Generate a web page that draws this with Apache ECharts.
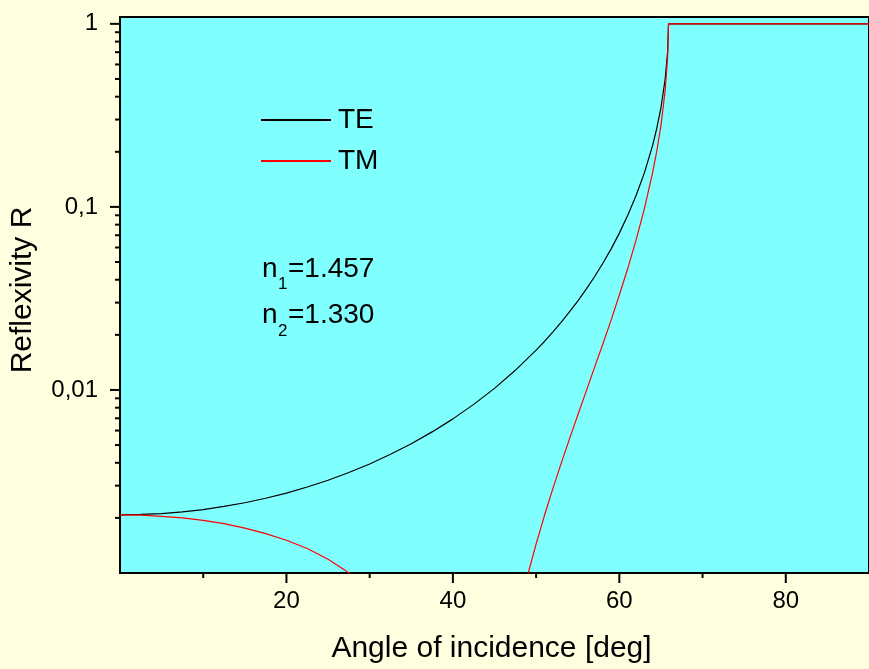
<!DOCTYPE html>
<html>
<head>
<meta charset="utf-8">
<script src="https://cdn.jsdelivr.net/npm/echarts@6/dist/echarts.min.js"></script>
<style>
html,body{margin:0;padding:0;background:#FFFFE0;}
#main{width:869px;height:669px;}
</style>
</head>
<body>
<div id="main"></div>
<script>
// Angle of incidence [deg] and reflexivity values
var teAngles = [0,2.5,5,7.5,10,12.5,15,17.5,20,22.5,25,27.5,30,32.5,35,37.5,40,42.5,45,47.5,50,51,52,53,54,55,56,57,58,59,60,61,62,63,64,64.5,65,65.5,65.8,65.91,70,80,90];
var teValues = [0.00208,0.00209,0.00211,0.00216,0.00222,0.00231,0.00242,0.00256,0.00273,0.00295,0.00321,0.00354,0.00394,0.00445,0.00508,0.00590,0.00695,0.00834,0.0102,0.0128,0.0165,0.0184,0.0207,0.0234,0.0267,0.0306,0.0354,0.0414,0.0491,0.0588,0.0719,0.0897,0.115,0.153,0.217,0.269,0.348,0.496,0.701,1,1,1,1];

var tmAngles = [0,2.5,5,7.5,10,12.5,15,17.5,20,22.5,25,27,28,30,45,48,49,50,51,52,53,54,55,56,57,58,59,60,61,62,63,64,64.5,65,65.5,65.8,65.91,70,80,90];
var tmValues = [0.00208,0.00207,0.00204,0.00200,0.00194,0.00186,0.00176,0.00164,0.00151,0.00136,0.00119,0.00104,0.00096,0.000803,0.000104,0.000637,0.000979,0.00144,0.00206,0.00288,0.00396,0.00539,0.00728,0.00979,0.0132,0.0177,0.0240,0.0330,0.0459,0.0656,0.0972,0.154,0.202,0.278,0.430,0.653,1,1,1,1];

var seriesNames = ['TE','TM'];
var yMajorTicks = [0.01,0.1,1];
var yMinorTicks = [0.002,0.003,0.004,0.005,0.006,0.007,0.008,0.009,
                   0.02,0.03,0.04,0.05,0.06,0.07,0.08,0.09,
                   0.2,0.3,0.4,0.5,0.6,0.7,0.8,0.9];
var xMajorTicks = [20,40,60,80];
var xMinorTicks = [10,30,50,70];

function pairs(xs, ys){ return xs.map(function(x,i){ return [x, ys[i]]; }); }

var tickData = [];
yMajorTicks.forEach(function(v){ tickData.push([0, v, 0]); });
yMinorTicks.forEach(function(v){ tickData.push([0, v, 1]); });
xMajorTicks.forEach(function(v){ tickData.push([v, 0.001, 2]); });
xMinorTicks.forEach(function(v){ tickData.push([v, 0.001, 3]); });

var FONT = 'Liberation Sans, Arial, sans-serif';

var chart = echarts.init(document.getElementById('main'));
chart.setOption({
  animation: false,
  backgroundColor: '#FFFFE0',
  grid: {
    left: 120, top: 17, width: 751.5, height: 559,
    show: true, backgroundColor: '#80FFFF', borderColor: '#000', borderWidth: 2
  },
  legend: {
    data: seriesNames,
    orient: 'vertical',
    left: 255, top: 101,
    itemWidth: 70, itemHeight: 14, itemGap: 13,
    itemStyle: { opacity: 0 },
    textStyle: { fontFamily: FONT, fontSize: 28, color: '#000', padding: [0,0,0,2] }
  },
  xAxis: {
    type: 'value', min: 0, max: 90, interval: 20,
    name: 'Angle of incidence [deg]', nameLocation: 'middle', nameGap: 61,
    nameTextStyle: { fontFamily: FONT, fontSize: 30, color: '#000', padding: [0,6,0,0] },
    axisLine: { show: true, lineStyle: { color: '#000', width: 2 } },
    axisTick: { show: false },
    splitLine: { show: false },
    axisLabel: { fontFamily: FONT, fontSize: 24, color: '#000', margin: 16, showMinLabel: false, showMaxLabel: false }
  },
  yAxis: {
    type: 'log', logBase: 10, min: 0.001, max: 1.09,
    name: 'Reflexivity R', nameLocation: 'middle', nameGap: 82, nameRotate: 90,
    nameTextStyle: { fontFamily: FONT, fontSize: 30, color: '#000', padding: [0,0,0,10] },
    axisLine: { show: true, lineStyle: { color: '#000', width: 2 } },
    axisTick: { show: false },
    splitLine: { show: false },
    axisLabel: {
      fontFamily: FONT, fontSize: 24, color: '#000', margin: 22,
      showMinLabel: false, showMaxLabel: false,
      formatter: function(v){ return String(v).replace('.', ','); }
    }
  },
  graphic: [
    { type: 'text', left: 262, top: 255, style: { text: 'n', font: '28px ' + FONT, fill: '#000' } },
    { type: 'text', left: 278, top: 276, style: { text: '1', font: '17px ' + FONT, fill: '#000' } },
    { type: 'text', left: 288, top: 255, style: { text: '=1.457', font: '28px ' + FONT, fill: '#000' } },
    { type: 'text', left: 262, top: 301, style: { text: 'n', font: '28px ' + FONT, fill: '#000' } },
    { type: 'text', left: 278, top: 323, style: { text: '2', font: '17px ' + FONT, fill: '#000' } },
    { type: 'text', left: 288, top: 301, style: { text: '=1.330', font: '28px ' + FONT, fill: '#000' } }
  ],
  series: [
    {
      name: 'TE', type: 'line', data: pairs(teAngles, teValues),
      symbol: 'none', clip: true, z: 3,
      lineStyle: { color: '#000', width: 1.2 }, itemStyle: { color: '#000' }
    },
    {
      name: 'TM', type: 'line', data: pairs(tmAngles, tmValues),
      symbol: 'none', clip: true, z: 4,
      lineStyle: { color: '#FF0000', width: 1.2 }, itemStyle: { color: '#FF0000' }
    },
    {
      name: 'ticks', type: 'custom', clip: false, silent: true, z: 5,
      data: tickData,
      renderItem: function(params, api){
        var cs = params.coordSys;
        var kind = api.value(2);
        var p = api.coord([api.value(0), api.value(1)]);
        var len = (kind === 0 || kind === 2) ? 10 : 5;
        var shape;
        if (kind < 2) {
          shape = { x1: cs.x - len, y1: p[1], x2: cs.x, y2: p[1] };
        } else {
          var yb = cs.y + cs.height;
          shape = { x1: p[0], y1: yb, x2: p[0], y2: yb + len };
        }
        return { type: 'line', shape: shape, style: { stroke: '#000', lineWidth: 2 } };
      }
    }
  ]
});
</script>
</body>
</html>
